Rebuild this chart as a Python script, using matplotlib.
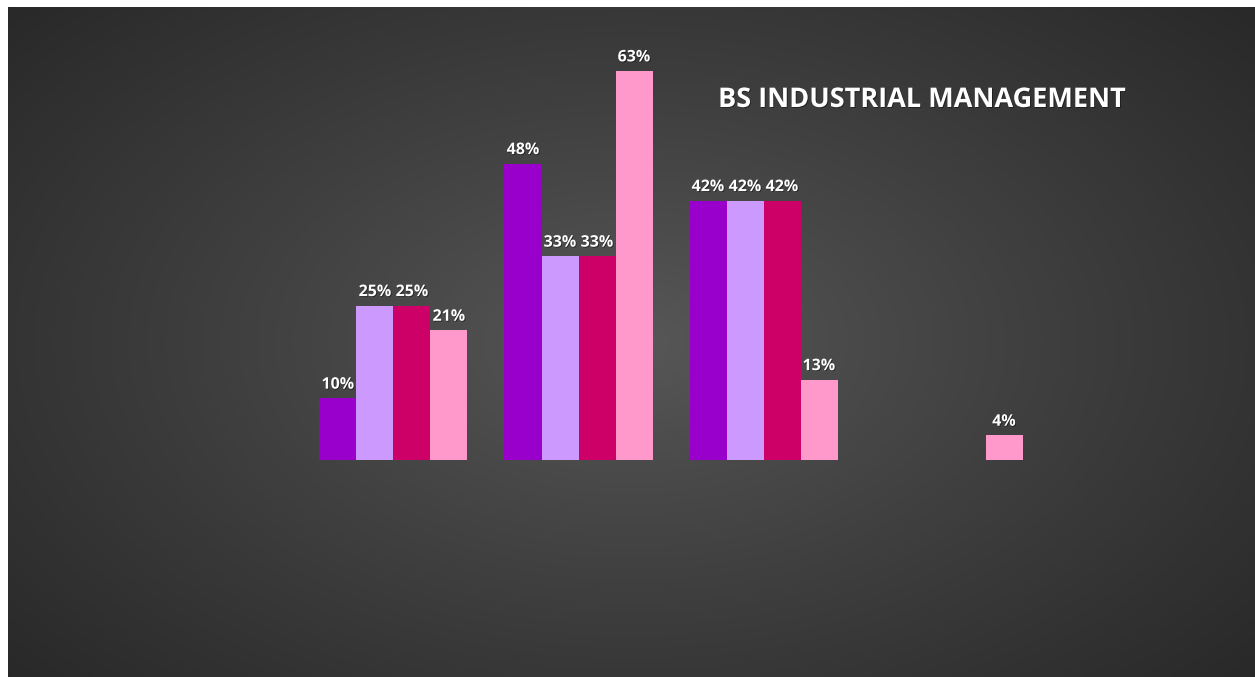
import numpy as np
import matplotlib.pyplot as plt
import matplotlib.patheffects as pe

# ── data ─────────────────────────────────────────────────────────────────────
groups = ["1", "2", "3", "4"]
series_a = [10, 48, 42, 0]
series_b = [25, 33, 42, 0]
series_c = [25, 33, 42, 0]
series_d = [21, 63, 13, 4]
colors = ["#9900CC", "#CC99FF", "#CC0066", "#FF99CC"]
title = "BS INDUSTRIAL MANAGEMENT"

W, H = 1255, 677
fig = plt.figure(figsize=(W / 100, H / 100), dpi=100, facecolor="white")

# dark area (white margin top/left)
x0, y0 = 8 / W, 0.0
w0, h0 = 1 - x0, 1 - 7 / H

# ── radial gradient background ───────────────────────────────────────────────
bg = fig.add_axes([x0, y0, w0, h0])
gx, gy = np.meshgrid(np.linspace(0, 1, 400), np.linspace(0, 1, 220))
r = np.sqrt(((gx - 0.5) / 0.75) ** 2 + ((gy - 0.5) / 0.85) ** 2)
r = np.clip(r / 0.95, 0, 1)
val = (0x58 - (0x58 - 0x26) * r ** 0.9) / 255
img = np.dstack([val, val, val])
bg.imshow(img, extent=[0, 1, 0, 1], aspect="auto", interpolation="bilinear")
bg.set_axis_off()

shadow = [pe.withSimplePatchShadow(offset=(0.6, -0.6), shadow_rgbFace="black", alpha=0.5)]

# ── bars ──────────────────────────────────────────────────────────────────────
ax = fig.add_axes([x0, y0, w0, h0])
ax.patch.set_alpha(0)
x = np.arange(len(groups))
width = 0.2
for i, vals in enumerate([series_a, series_b, series_c, series_d]):
    pos = x + (i - 1.5) * width
    for xp, v in zip(pos, vals):
        if v <= 0:
            continue
        ax.bar(xp, v, width, color=colors[i], edgecolor="none")
        ax.text(xp, v + 0.9, f"{v}%", ha="center", va="bottom",
                color="white", fontsize=11.5, fontweight="bold",
                family="Open Sans", path_effects=shadow)

ax.set_xlim((8 - 393.5) / 185, (1255 - 393.5) / 185)
ax.set_ylim(-(677 - 460) / 6.175, (460 - 7) / 6.175)
ax.set_axis_off()

fig.text(922 / W, 1 - 100 / H, title, ha="center", va="center",
         color="white", fontsize=19.5, fontweight="bold", family="Open Sans",
         path_effects=shadow)

plt.savefig("out.png", dpi=100, facecolor="white")
